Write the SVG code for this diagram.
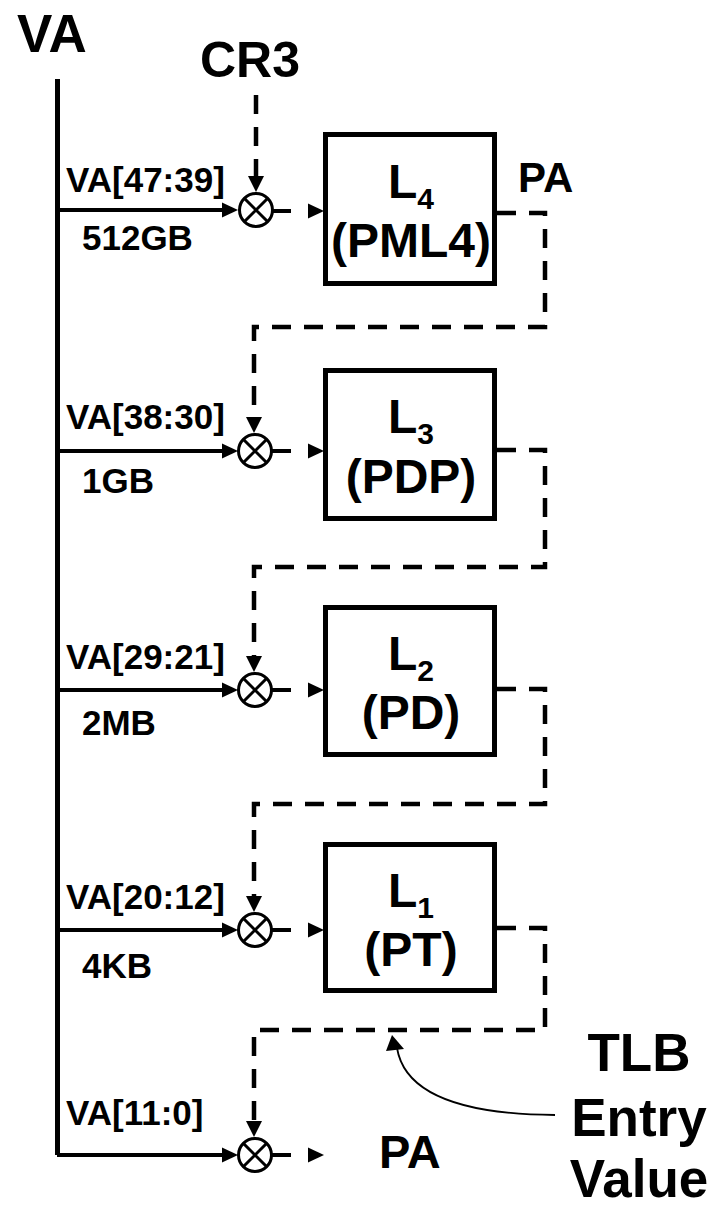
<svg xmlns="http://www.w3.org/2000/svg" xmlns:xlink="http://www.w3.org/1999/xlink" width="717" height="1207" viewBox="0 0 717 1207">
<style>
text{font-family:"Liberation Sans",Arial,sans-serif;font-weight:bold;fill:#000}
.big{font-size:53px}
.lbl{font-size:35px}
.box{fill:#fff;stroke:#000;stroke-width:5}
.bt{font-size:48px;text-anchor:middle}
.sub{font-size:30px}
.solid{fill:none;stroke:#000;stroke-width:4}
.bus{fill:none;stroke:#000;stroke-width:5}
.dash{fill:none;stroke:#000;stroke-width:4.5;stroke-dasharray:19 13}
.mix{fill:#fff;stroke:#000;stroke-width:3}
.ah{fill:#000}
</style>
<defs>
<path id="ahD" d="M0,0 L-8,-16 L8,-16 Z"/>
<path id="ahR" d="M0,0 L-16,-7.5 L-16,7.5 Z"/>
<g id="mixer">
<circle class="mix" cx="0" cy="0" r="16.5"/>
<path d="M-11.5,-11.5 L11.5,11.5 M-11.5,11.5 L11.5,-11.5" stroke="#000" stroke-width="3"/>
</g>
</defs>

<g id="connectors">
<path class="bus" d="M57.5,79 V1155"/>
<path class="solid" d="M57,210 H226 M57,451 H226 M57,690 H226 M57,930 H226 M57,1155 H226"/>
<use xlink:href="#ahR" href="#ahR" class="ah" x="238" y="210"/>
<use xlink:href="#ahR" href="#ahR" class="ah" x="238" y="451"/>
<use xlink:href="#ahR" href="#ahR" class="ah" x="238" y="690"/>
<use xlink:href="#ahR" href="#ahR" class="ah" x="238" y="930"/>
<use xlink:href="#ahR" href="#ahR" class="ah" x="238" y="1155"/>
<path class="solid" d="M272,211 H291 M272,451 H291 M272,690 H291 M272,930 H291 M272,1155 H291"/>
<use xlink:href="#ahR" href="#ahR" class="ah" x="324" y="211"/>
<use xlink:href="#ahR" href="#ahR" class="ah" x="324" y="451"/>
<use xlink:href="#ahR" href="#ahR" class="ah" x="324" y="690"/>
<use xlink:href="#ahR" href="#ahR" class="ah" x="324" y="930"/>
<use xlink:href="#ahR" href="#ahR" class="ah" x="324" y="1155"/>
<path class="dash" d="M256,95 V178"/>
<use xlink:href="#ahD" href="#ahD" class="ah" x="256" y="192"/>
<path class="dash" d="M497,213 H545 V327 H254 V420"/>
<use xlink:href="#ahD" href="#ahD" class="ah" x="254" y="433"/>
<path class="dash" d="M497,450 H545 V567 H254 V660"/>
<use xlink:href="#ahD" href="#ahD" class="ah" x="254" y="672"/>
<path class="dash" d="M497,689 H545 V804 H254 V900"/>
<use xlink:href="#ahD" href="#ahD" class="ah" x="254" y="912"/>
<path class="dash" d="M497,928 H545 V1030 H254 V1124"/>
<use xlink:href="#ahD" href="#ahD" class="ah" x="254" y="1137"/>
<path d="M555,1115 Q408,1114 397,1048" fill="none" stroke="#000" stroke-width="1.8"/>
<path class="ah" d="M392,1035 L386,1051 L404,1049 Z"/>
</g>

<g id="mixer1"><use xlink:href="#mixer" href="#mixer" x="256" y="210"/></g>
<g id="mixer2"><use xlink:href="#mixer" href="#mixer" x="255" y="451"/></g>
<g id="mixer3"><use xlink:href="#mixer" href="#mixer" x="255" y="690"/></g>
<g id="mixer4"><use xlink:href="#mixer" href="#mixer" x="255" y="930"/></g>
<g id="mixer5"><use xlink:href="#mixer" href="#mixer" x="255" y="1155"/></g>

<g id="va-label"><text class="big" x="17" y="52">VA</text></g>
<g id="cr3"><text x="250" y="77" font-size="50" text-anchor="middle">CR3</text></g>

<g id="row1-labels">
<text class="lbl" x="66" y="192">VA[47:39]</text>
<text class="lbl" x="82" y="250">512GB</text>
</g>
<g id="row2-labels">
<text class="lbl" x="66" y="429">VA[38:30]</text>
<text class="lbl" x="82" y="493">1GB</text>
</g>
<g id="row3-labels">
<text class="lbl" x="66" y="669">VA[29:21]</text>
<text class="lbl" x="82" y="735">2MB</text>
</g>
<g id="row4-labels">
<text class="lbl" x="66" y="909">VA[20:12]</text>
<text class="lbl" x="82" y="978">4KB</text>
</g>
<g id="row5-labels">
<text class="lbl" x="66" y="1125">VA[11:0]</text>
</g>

<g id="L4">
<rect class="box" x="325.5" y="134.5" width="169" height="149"/>
<text class="bt" x="411" y="198">L<tspan class="sub" dy="11">4</tspan></text>
<text class="bt" x="411" y="257">(PML4)</text>
</g>
<g id="L3">
<rect class="box" x="325.5" y="370.5" width="169" height="148"/>
<text class="bt" x="411" y="433">L<tspan class="sub" dy="11">3</tspan></text>
<text class="bt" x="411" y="493">(PDP)</text>
</g>
<g id="L2">
<rect class="box" x="325.5" y="607.5" width="169" height="147"/>
<text class="bt" x="411" y="670">L<tspan class="sub" dy="11">2</tspan></text>
<text class="bt" x="411" y="729">(PD)</text>
</g>
<g id="L1">
<rect class="box" x="325.5" y="844.5" width="169" height="146"/>
<text class="bt" x="411" y="907">L<tspan class="sub" dy="11">1</tspan></text>
<text class="bt" x="411" y="966">(PT)</text>
</g>

<g id="pa-top"><text x="518" y="192" font-size="42">PA</text></g>
<g id="pa-bottom"><text x="379" y="1168" font-size="47">PA</text></g>
<g id="tlb">
<text class="big" x="639" y="1071" text-anchor="middle">TLB</text>
<text class="big" x="639" y="1136" text-anchor="middle">Entry</text>
<text class="big" x="639" y="1197" text-anchor="middle">Value</text>
</g>
</svg>
